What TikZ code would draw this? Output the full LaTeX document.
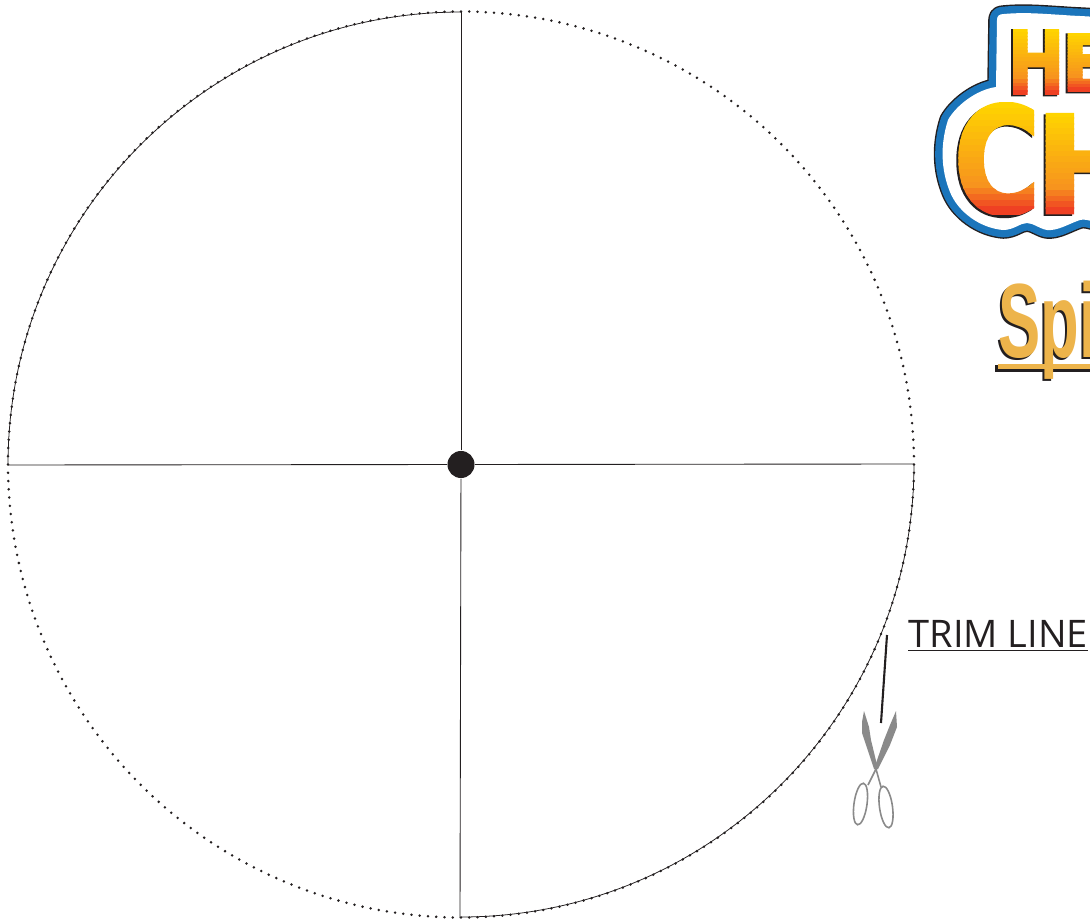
\documentclass[tikz,border=0pt]{standalone}
\usepackage{fontspec}
\usetikzlibrary{calc}
\newfontfamily\logofont[FakeBold=2.2]{DejaVu Sans Bold}
\newfontfamily\titlefont{Liberation Sans Bold}
\newfontfamily\trimfont{Open Sans}
\definecolor{inkdark}{HTML}{231F20}
\definecolor{logoblue}{HTML}{1B75BB}
\definecolor{logotop}{HTML}{FFD400}
\definecolor{logomid}{HTML}{F7941E}
\definecolor{logolow}{HTML}{EF4023}
\definecolor{spingold}{HTML}{EDB44B}
\definecolor{bladegray}{HTML}{8A8A8A}
\tikzset{
  spoke/.style={inkdark, line width=0.25pt},
  trim arc/.style={inkdark, line width=0.22pt},
  trim dot/.style={fill=inkdark},
  hub dot/.style={circle, fill=inkdark, inner sep=0pt, minimum size=0.27cm},
  flat text/.style={anchor=base west, inner sep=0pt},
  scissor ring/.style={draw=bladegray, line width=0.45pt},
}
% one letter of the logo: name, x, baseline y, top y, font, text
\newcommand{\logoletter}[6]{%
  \node[flat text, text=inkdark] (#1shadow) at (#2-2,#3+1.5) {#5#6};
  \foreach \k in {0,...,17}{
    \pgfmathsetmacro{\ya}{#4+(#3-#4)*\k/18}
    \pgfmathsetmacro{\yb}{#4+(#3-#4)*(\k+1.2)/18}
    \pgfmathtruncatemacro{\mixa}{100-\k*100/13}
    \pgfmathtruncatemacro{\mixb}{100-(\k-13)*100/4}
    \ifnum\k<13 \colorlet{bandcolor}{logotop!\mixa!logomid}\else\colorlet{bandcolor}{logomid!\mixb!logolow}\fi
    \begin{scope}
      \clip (#2-5,\ya) rectangle (#2+160,\yb);
      \node[flat text, text=bandcolor] (#1band\k) at (#2,#3) {#5#6};
    \end{scope}
  }
}
\begin{document}
\begin{tikzpicture}[x=0.01cm, y=-0.01cm]
  \useasboundingbox (0,0) rectangle (1090,921);
  \clip (0,0) rectangle (1090,921);
  \coordinate (top) at (461,11);    \coordinate (bottom) at (460,918);
  \coordinate (left) at (8,465);    \coordinate (right) at (914,464);
  \node[hub dot] (hub) at (461,464.5) {};
  % spokes
  \draw[spoke] (hub) -- (top);
  \draw[spoke] (hub) -- (bottom);
  \draw[spoke] (hub) -- (left);
  \draw[spoke] (hub) -- (right);
  % solid quarters of the trim line
  \draw[trim arc] (left) arc[start angle=180, end angle=270, radius=453];
  \draw[trim arc] (right) arc[start angle=0, end angle=90, radius=453];
  \foreach \a in {0,...,343}{
    \fill[trim dot] ($(461,464.5)+(\a*1.04651:453)$) circle[radius=1.4];
  }
  % logo badge
  \def\badge{(997,20) .. controls (997,16) and (999,14) .. (1004,14)
    .. controls (1025,12) and (1045,14) .. (1063,15) .. controls (1075,16) and (1085,16) .. (1095,17)
    -- (1095,222) .. controls (1088,220) and (1084,219) .. (1080,220)
    .. controls (1068,224) and (1058,231) .. (1047,230) .. controls (1040,229) and (1033,223) .. (1027,223)
    .. controls (1020,223) and (1014,230) .. (1003,230)
    .. controls (980,228) and (958,212) .. (950,192)
    .. controls (941,170) and (940,145) .. (948,120)
    .. controls (955,107) and (975,90) .. (996,87) -- cycle}
  \draw[inkdark, line width=5pt, line join=round] \badge;
  \draw[logoblue, line width=4.2pt, line join=round] \badge;
  \fill[white] \badge;
  \logoletter{hone}{1007}{94}{29}{\fontsize{25.5pt}{26pt}\logofont}{\scalebox{.76}[1]{H}}
  \logoletter{eone}{1061}{91}{33}{\fontsize{22.7pt}{24pt}\logofont}{\scalebox{.9}[1]{E}}
  \logoletter{ctwo}{953}{213}{102}{\fontsize{42pt}{44pt}\logofont}{\scalebox{.8}[1]{C}}
  \logoletter{htwo}{1034}{213}{112}{\fontsize{38.5pt}{40pt}\logofont}{H}
  % title
  \fill[inkdark] (995,364.5) rectangle (1090,371.5);
  \node[flat text, text=inkdark] (titleshadow) at (996,359.5)
    {\fontsize{30pt}{32pt}\titlefont\scalebox{.6}[1]{Spi}};
  \fill[spingold] (998,363.5) rectangle (1090,368.5);
  \node[flat text, text=spingold] (title) at (998,357.5)
    {\fontsize{30pt}{32pt}\titlefont\scalebox{.6}[1]{Spi}};
  % label and scissors
  \node[flat text, text=inkdark] (trimlabel) at (908,647)
    {\fontsize{10.8pt}{12pt}\trimfont TRIM LINE};
  \draw[inkdark, line width=0.35pt] (trimlabel.base west)++(0,3.2) -- (1088,650.2);
  \coordinate (pointer top) at (887,635);
  \coordinate (pointer low) at (881,723);
  \draw[inkdark, line width=0.6pt] (pointer top) -- (pointer low);
  \fill[bladegray] (864,711) -- (869,727) -- (871,740) -- (878,769) -- (874,769) -- (862,733) -- (862,722) -- cycle;
  \fill[bladegray] (896,711) -- (897,727) -- (890,745) -- (878,769) -- (874,769) -- (884,740) -- (890,725) -- cycle;
  \draw[bladegray, line width=0.45pt] (876,769) -- (868,785);
  \draw[bladegray, line width=0.45pt] (876,769) -- (881,787);
  \draw[scissor ring] (860.5,804) ellipse[x radius=6.5, y radius=21, rotate=-8];
  \draw[scissor ring] (886,807) ellipse[x radius=6.5, y radius=21, rotate=8];
\end{tikzpicture}
\end{document}
